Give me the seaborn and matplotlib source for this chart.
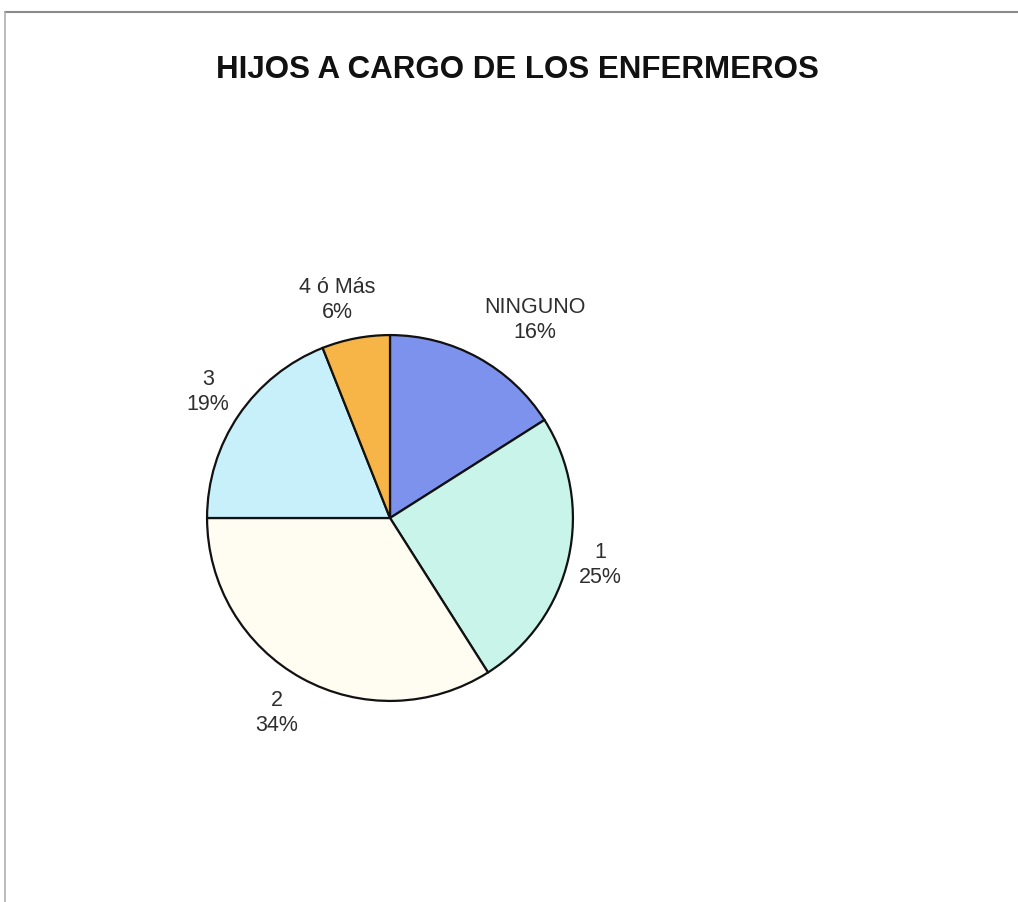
import matplotlib
matplotlib.use("Agg")
import matplotlib.pyplot as plt
import seaborn as sns
import numpy as np
from matplotlib.lines import Line2D

sns.set_theme(style="white")
plt.rcParams['font.family'] = ['Liberation Sans', 'DejaVu Sans']

categories = ["NINGUNO", "1", "2", "3", "4 ó Más"]
values = [16, 25, 34, 19, 6]
colors = ["#7c92ec", "#c9f4ea", "#fffdf2", "#c8f0fb", "#f7b548"]
label_radius = [1.34, 1.18, 1.232, 1.21, 1.226]
label_angle_offset = [-7.5, 0, -1.3, -0.5, 2.9]

fig = plt.figure(figsize=(10.18, 9.02), dpi=100)
fig.patch.set_facecolor("white")

ax = fig.add_axes([90/1018, 84/902, 600/1018, 600/902])
wedges, _ = ax.pie(values, colors=colors, startangle=90, counterclock=False,
                   wedgeprops=dict(edgecolor="#111111", linewidth=1.6))
ax.set_xlim(-1.64, 1.64)
ax.set_ylim(-1.64, 1.64)
ax.set_aspect("equal")
ax.axis("off")

total = sum(values)
for w, cat, v, r, off in zip(wedges, categories, values, label_radius, label_angle_offset):
    ang = np.deg2rad((w.theta1 + w.theta2) / 2 + off)
    ax.text(r * np.cos(ang), r * np.sin(ang), f"{cat}\n{round(100 * v / total)}%",
            ha="center", va="center", fontsize=15.5, color="#2e2e2e", linespacing=1.25)

fig.text(517/1018, 1 - 70/902, "HIJOS A CARGO DE LOS ENFERMEROS",
         ha="center", va="center", fontsize=22.5, fontweight="bold", color="#111111")

fig.add_artist(Line2D([5/1018, 1.0], [1 - 12/902, 1 - 12/902], color="#8a8a8a", lw=1.5,
                      transform=fig.transFigure))
fig.add_artist(Line2D([5/1018, 5/1018], [1 - 12/902, 0.0], color="#b0b0b0", lw=1.2,
                      transform=fig.transFigure))

fig.savefig("out.png", dpi=100)
